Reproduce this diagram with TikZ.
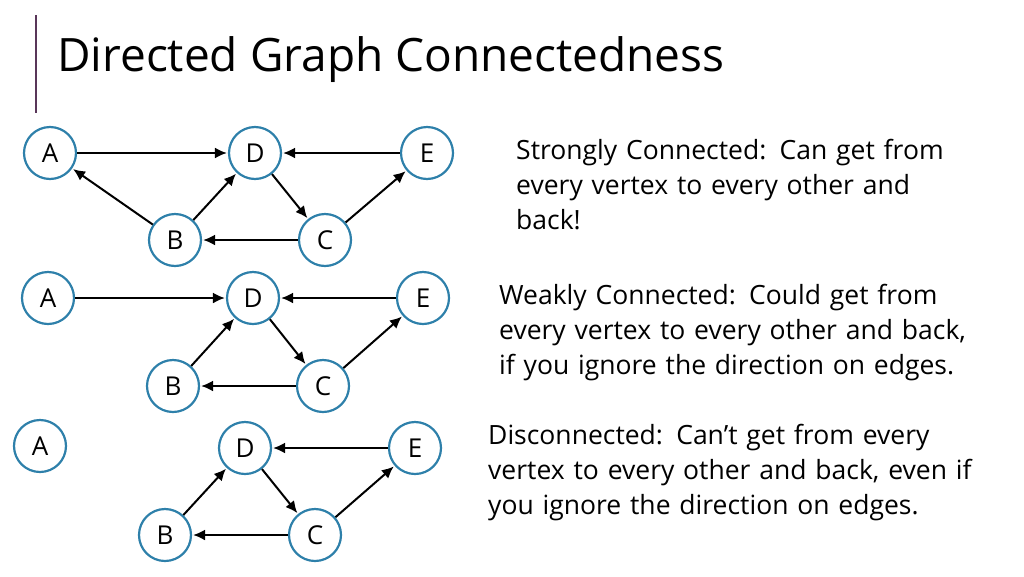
\documentclass[tikz,border=0pt]{standalone}
\usepackage{fontspec}
\setmainfont{Open Sans}
\usetikzlibrary{arrows.meta}
\definecolor{ring}{HTML}{2E80AA}
\begin{document}
\begin{tikzpicture}[x=1pt,y=-1pt,
  vtx/.style={circle,draw=ring,line width=2.2pt,minimum size=52pt,inner sep=0pt,font=\fontsize{26}{28}\selectfont},
  edge/.style={-{Latex[length=12pt,width=11pt]},line width=2pt,shorten >=1pt},
  desc/.style={anchor=north west,align=left,font=\fontsize{26.5}{35}\selectfont,text width=540pt,inner sep=0pt}]
\useasboundingbox (0,0) rectangle (1024,576);
\draw[gray!60!violet!70!black,line width=1.6pt] (36,15) -- (36,113);
\node[anchor=west,inner sep=0pt,font=\fontsize{46}{50}\selectfont] (title) at (57,60) {Directed Graph Connectedness};
% graph 1
\node[vtx] (A1) at (50,153) {A};
\node[vtx] (D1) at (255,153) {D};
\node[vtx] (E1) at (427,153) {E};
\node[vtx] (B1) at (175,240) {B};
\node[vtx] (C1) at (325,240) {C};
\draw[edge] (A1) -- (D1);
\draw[edge] (E1) -- (D1);
\draw[edge] (D1) -- (C1);
\draw[edge] (C1) -- (E1);
\draw[edge] (C1) -- (B1);
\draw[edge] (B1) -- (D1);
\draw[edge] (B1) -- (A1);
% graph 2
\node[vtx] (A2) at (48,298) {A};
\node[vtx] (D2) at (253,298) {D};
\node[vtx] (E2) at (423,298) {E};
\node[vtx] (B2) at (173,386) {B};
\node[vtx] (C2) at (323,386) {C};
\draw[edge] (A2) -- (D2);
\draw[edge] (E2) -- (D2);
\draw[edge] (D2) -- (C2);
\draw[edge] (C2) -- (E2);
\draw[edge] (C2) -- (B2);
\draw[edge] (B2) -- (D2);
% graph 3
\node[vtx] (A3) at (40,446) {A};
\node[vtx] (D3) at (245,448) {D};
\node[vtx] (E3) at (415,448) {E};
\node[vtx] (B3) at (165,535) {B};
\node[vtx] (C3) at (315,535) {C};
\draw[edge] (E3) -- (D3);
\draw[edge] (D3) -- (C3);
\draw[edge] (C3) -- (E3);
\draw[edge] (C3) -- (B3);
\draw[edge] (B3) -- (D3);
% text
\node[desc] (t1) at (516,139) {Strongly Connected: Can get from\\every vertex to every other and\\back!};
\node[desc] (t2) at (499,284) {Weakly Connected: Could get from\\every vertex to every other and back,\\if you ignore the direction on edges.};
\node[desc] (t3) at (488,424) {Disconnected: Can’t get from every\\vertex to every other and back, even if\\you ignore the direction on edges.};
\end{tikzpicture}
\end{document}
